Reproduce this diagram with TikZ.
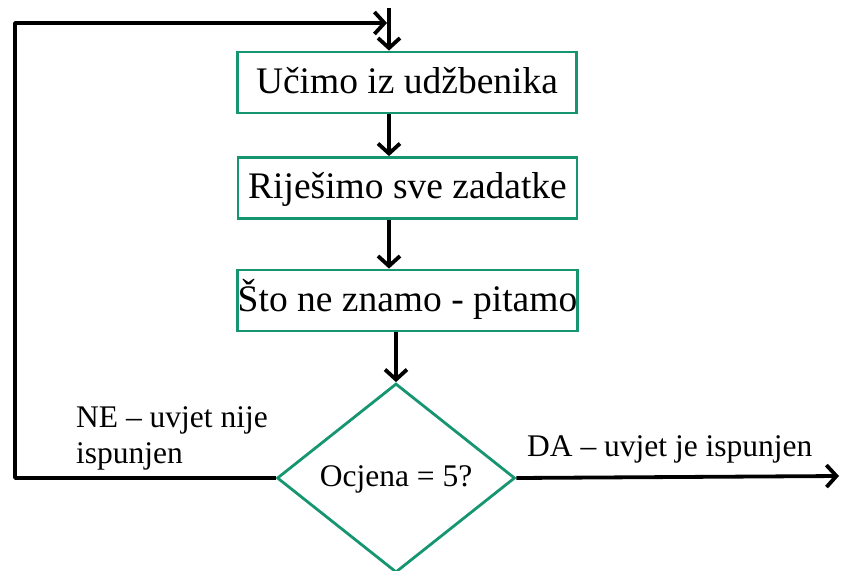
\documentclass[tikz,border=0pt]{standalone}
\usepackage{fontspec}
\setmainfont{Liberation Serif}
\usetikzlibrary{shapes.geometric,arrows.meta}
\definecolor{boxgreen}{RGB}{22,150,112}
\begin{document}
\begin{tikzpicture}[x=1pt,y=-1pt,
  stepbox/.style={draw=boxgreen,line width=2.8pt,fill=white,inner sep=0pt,
    minimum width=339pt,minimum height=61pt,
    font=\fontsize{37.5}{44}\selectfont,text height=27pt,text depth=6pt},
  decision/.style={diamond,draw=boxgreen,line width=2.8pt,inner sep=0pt,
    minimum width=238pt,minimum height=189pt,
    font=\fontsize{31.5}{36}\selectfont,text height=21pt,text depth=4pt},
  flow/.style={line width=3.8pt,line join=round,black},
  tip/.style={-{Straight Barb[length=10pt,width=22pt,line width=3.8pt]}},
  label/.style={inner sep=0pt,font=\fontsize{31.5}{36}\selectfont}]
  \useasboundingbox (0,0) rectangle (848,570);

  % process steps
  \node[stepbox] (b1) at (407,82.5) {Učimo iz udžbenika};
  \node[stepbox] (b2) at (407.5,188) {Riješimo sve zadatke};
  \node[stepbox] (b3) at (407.5,300.5) {Što ne znamo - pitamo};

  % decision
  \node[decision] (d) at (396,478) {Ocjena = 5?};

  % loop-back path and entry
  \coordinate (entry) at (389,8);
  \coordinate (loopbl) at (15,478);
  \coordinate (looptl) at (15,23);
  \coordinate (looptip) at (387,23);
  \coordinate (exit) at (839,476);

  \draw[flow,tip] (entry) -- (entry |- b1.north);
  \draw[flow,tip] (b1.south -| entry) -- (b2.north -| entry);
  \draw[flow,tip] (b2.south -| entry) -- (b3.north -| entry);
  \draw[flow,tip] (b3.south -| d.north) -- (d.north);
  \draw[flow,tip] (d.west) -- (loopbl) -- (looptl) -- (looptip);
  \draw[flow,tip] (d.east) -- (exit);

  % branch labels (base anchor sits on the last line)
  \node[label,align=left,anchor=base west] (no) at (76,463) {NE – uvjet nije\\ispunjen};
  \node[label,anchor=base west] (yes) at (527,456) {DA – uvjet je ispunjen};
\end{tikzpicture}
\end{document}
